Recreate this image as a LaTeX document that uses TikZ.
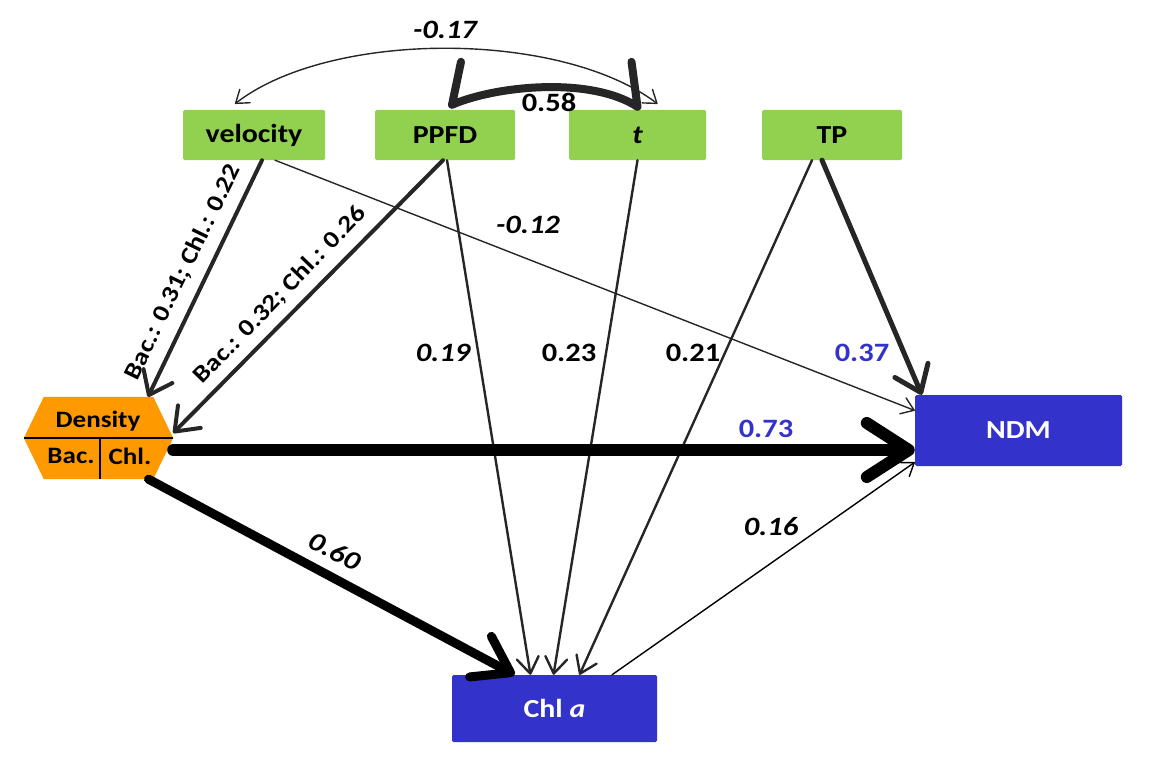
\documentclass[tikz,border=0pt]{standalone}
\usepackage{fontspec}
\setmainfont{Carlito}[FakeStretch=1.15]
\usetikzlibrary{arrows.meta}
\definecolor{grn}{HTML}{92D050}
\definecolor{blu}{HTML}{3333CC}
\definecolor{org}{HTML}{FF9900}
\definecolor{dk}{HTML}{262626}
\newcommand{\nfont}{\fontsize{26}{30}\selectfont\bfseries}
\newcommand{\lfont}{\fontsize{26.5}{30}\selectfont\bfseries}
\newcommand{\sfont}{\fontsize{24}{28}\selectfont\bfseries}
\newcommand{\dfont}{\fontsize{23.5}{27}\selectfont\bfseries}
\begin{document}
\begin{tikzpicture}[x=1pt,y=-1pt,
  gbox/.style={rectangle, rounded corners=1.5pt, inner sep=0pt, fill=grn, text=black, font=\nfont, minimum height=50pt},
  bbox/.style={rectangle, rounded corners=1.5pt, inner sep=0pt, fill=blu, text=white, font=\nfont},
  lbl/.style={font=\lfont, text=black, inner sep=1pt},
  ilbl/.style={font=\lfont\itshape, text=black, inner sep=1pt},
  blbl/.style={font=\lfont, text=blu, inner sep=1pt},
  conn/.style={draw=dk, line cap=round, line join=round},
  thinc/.style={conn, line width=1.4pt, -{Straight Barb[length=12pt,width=17pt,round]}},
  midc/.style={conn, line width=2.4pt, -{Straight Barb[length=16pt,width=22pt,round]}},
  thickc/.style={conn, line width=4pt, -{Straight Barb[length=21pt,width=32pt,round]}},
]
\useasboundingbox (0,0) rectangle (1163,760);

% nodes
\node[gbox, minimum width=142pt] (vel) at (254,135) {velocity};
\node[gbox, minimum width=140pt] (ppfd) at (445,135) {PPFD};
\node[gbox, minimum width=137pt] (t) at (637.5,135) {\itshape t};
\node[gbox, minimum width=140pt] (tp) at (832,135) {TP};
\node[bbox, minimum width=207pt, minimum height=71pt] (ndm) at (1018.5,430.5) {NDM};
\node[bbox, minimum width=205pt, minimum height=67pt] (chl) at (554.5,708.5) {Chl \textit{a}};

% density hexagon
\node[minimum width=149pt, minimum height=82pt, inner sep=0pt] (dens) at (98.5,438) {};
\fill[org] (dens.west) -- ([xshift=20pt]dens.north west) -- ([xshift=-20pt]dens.north east)
  -- (dens.east) -- ([xshift=-20pt]dens.south east) -- ([xshift=20pt]dens.south west) -- cycle;
\draw[black, line width=1.2pt] (dens.west) -- (dens.east);
\draw[black, line width=1.2pt] ([xshift=1.5pt]dens.center) -- ([xshift=1.5pt]dens.south);
\node[font=\dfont, inner sep=0pt] (dtop) at (98,421) {Density};
\node[font=\dfont, inner sep=0pt] (dbac) at (71,456) {Bac.};
\node[font=\dfont, inner sep=0pt] (dchl) at (130,456) {Chl.};

% correlation arcs
\draw[conn, line width=1.4pt, {Straight Barb[length=12pt,width=17pt,round]}-{Straight Barb[length=12pt,width=17pt,round]}]
  ([xshift=-19pt,yshift=6pt]vel.north) .. controls (330,30) and (560,30) .. ([xshift=20pt,yshift=6pt]t.north);
\node[ilbl] (l017) at (445,30) {-0.17};

\coordinate (p1) at ([xshift=16pt,yshift=48pt]ppfd.north);
\coordinate (p2) at ([xshift=7pt,yshift=5pt]ppfd.north);
\coordinate (q1) at ([xshift=-6pt,yshift=48pt]t.north);
\coordinate (q2) at ([xshift=0pt,yshift=3pt]t.north);
\draw[conn, line width=8pt] (p1) -- (p2) .. controls (495,86) and (590,76) .. (q2) -- (q1);
\node[lbl] (l058) at (549,102) {0.58};

% paths to Density
\draw[thickc] ([xshift=8pt]vel.south) -- ([xshift=49.5pt]dens.north);
\draw[thickc] ([xshift=-2pt]ppfd.south) -- ([yshift=5pt]dens.east);
\node[font=\sfont, rotate=64, inner sep=0pt] (lv) at (183,272) {Bac.: 0.31; Chl.: 0.22};
\node[font=\sfont, rotate=46, inner sep=0pt] (lp) at (280,295) {Bac.: 0.32; Chl.: 0.26};

% velocity -> NDM
\draw[thinc] ([xshift=21pt]vel.south) -- ([yshift=20pt]ndm.west);
\node[ilbl] (l012) at (528,225) {-0.12};

% to Chl a
\draw[midc] ([xshift=2pt]ppfd.south) -- ([xshift=-24pt]chl.north);
\node[ilbl] (l019) at (443,353) {0.19};
\draw[midc] (t.south) -- ([xshift=-1pt]chl.north);
\node[lbl] (l023) at (569,353) {0.23};
\draw[midc] ([xshift=-20pt]tp.south) -- ([xshift=25pt]chl.north);
\node[lbl] (l021) at (693,353) {0.21};

% TP -> NDM
\draw[conn, line width=5pt, -{Straight Barb[length=24pt,width=36pt,round]}] ([xshift=-10pt]tp.south) -- ([xshift=7pt]ndm.north west);
\node[blbl] (l037) at (862,353) {0.37};

% Density -> NDM
\draw[draw=black, line cap=round, line join=round, line width=12pt, -{Straight Barb[length=42pt,width=54pt,round]}]
  ([yshift=-12pt]dens.east) -- ([yshift=-19.5pt]ndm.west);
\node[blbl] (l073) at (766,429) {0.73};

% Density -> Chl a
\draw[draw=black, line cap=round, line join=round, line width=9pt, -{Straight Barb[length=34pt,width=46pt,round]}]
  ([xshift=50pt]dens.south) -- ([xshift=-40pt]chl.north);
\node[ilbl, rotate=-28] (l060) at (335,551) {0.60};

% Chl a -> NDM
\draw[thinc, draw=black] ([xshift=57.5pt]chl.north) -- ([yshift=4pt]ndm.south west);
\node[ilbl] (l016) at (771,527) {0.16};
\end{tikzpicture}
\end{document}
